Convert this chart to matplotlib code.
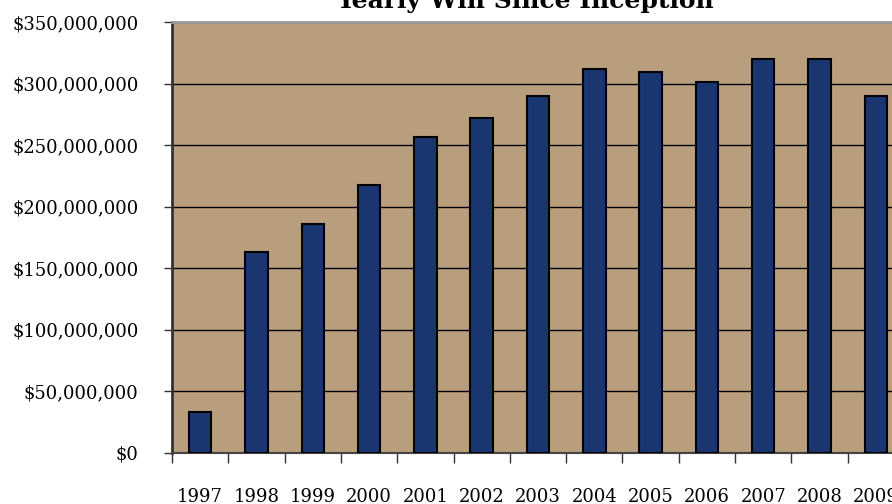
import numpy as np
import matplotlib
matplotlib.use('Agg')
import matplotlib.pyplot as plt
from matplotlib.ticker import FuncFormatter

years = ['1997', '1998', '1999', '2000', '2001', '2002', '2003',
         '2004', '2005', '2006', '2007', '2008', '2009']
win = [33e6, 163e6, 186e6, 218e6, 257e6, 272e6, 290e6,
       312e6, 309e6, 301e6, 320e6, 320e6, 290e6]

plt.rcParams['font.family'] = 'DejaVu Serif'

fig = plt.figure(figsize=(8.92, 5.04), dpi=100)
ax = fig.add_axes([172 / 892, 51 / 504, 732 / 892, 431 / 504])
ax.set_facecolor('#b89e7c')

x = np.arange(len(years))
ax.bar(x, win, width=0.4, color='#1a3670', edgecolor='black', linewidth=1.5, zorder=3)

ax.set_ylim(0, 350e6)
ax.set_yticks(np.arange(0, 350e6 + 1, 50e6))
ax.yaxis.set_major_formatter(FuncFormatter(lambda v, p: '${:,.0f}'.format(v)))
ax.yaxis.grid(True, color='black', linewidth=1)
ax.set_axisbelow(True)
ax.tick_params(axis='y', length=6, width=1, color='#333333', pad=18, labelsize=13)

ax.set_xlim(-0.5, len(years) - 0.5)
ax.set_xticks(x - 0.5)
ax.set_xticklabels([''] * len(years))
ax.set_xticks(x, minor=True)
ax.set_xticklabels(years, minor=True)
ax.tick_params(axis='x', which='major', length=7, width=1, color='#333333')
ax.tick_params(axis='x', which='minor', length=0, pad=25, labelsize=13)

ax.spines['top'].set_color('#999999')
ax.spines['top'].set_linewidth(2)
ax.spines['right'].set_visible(False)
ax.spines['left'].set_color('#333333')
ax.spines['left'].set_linewidth(2)
ax.spines['bottom'].set_color('#444444')
ax.spines['bottom'].set_linewidth(1.5)

fig.text(525 / 892, 1 - 8 / 504, 'Yearly Win Since Inception', ha='center', va='baseline',
         fontsize=18, fontweight='bold')

fig.savefig('out.png', dpi=100)
